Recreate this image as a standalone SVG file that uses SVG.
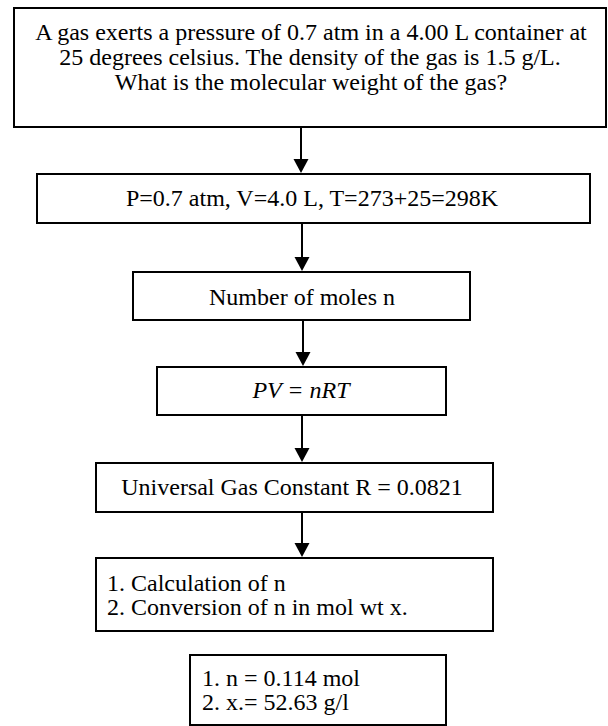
<svg xmlns="http://www.w3.org/2000/svg" width="608" height="726" viewBox="0 0 608 726">
<defs>
<style>
.box{fill:#fff;stroke:#000;stroke-width:2}
.t{font-family:"Liberation Serif","Times New Roman",serif;font-size:24px;fill:#000}
.c{text-anchor:middle}
.i{font-style:italic}
.conn line{stroke:#000;stroke-width:2}
.conn path{fill:#000;stroke:none}
</style>
</defs>
<rect width="608" height="726" fill="#fff"/>
<g id="n1">
<rect class="box" x="14" y="8" width="592" height="119"/>
<text class="t c" x="311" y="40">A gas exerts a pressure of 0.7 atm in a 4.00 L container at</text>
<text class="t c" x="310" y="65">25 degrees celsius. The density of the gas is 1.5 g/L.</text>
<text class="t c" x="311" y="90">What is the molecular weight of the gas?</text>
</g>
<g id="n2">
<rect class="box" x="37" y="174" width="553" height="49"/>
<text class="t c" x="312" y="206">P=0.7 atm, V=4.0 L, T=273+25=298K</text>
</g>
<g id="n3">
<rect class="box" x="133" y="272" width="337" height="48"/>
<text class="t c" x="302" y="305">Number of moles n</text>
</g>
<g id="n4">
<rect class="box" x="157" y="367" width="289" height="48"/>
<text class="t c i" x="301" y="398">PV = nRT</text>
</g>
<g id="n5">
<rect class="box" x="96" y="463" width="397" height="49"/>
<text class="t c" x="292" y="495">Universal Gas Constant R = 0.0821</text>
</g>
<g id="n6">
<rect class="box" x="96" y="558" width="397" height="73"/>
<text class="t" x="107" y="591">1. Calculation of n</text>
<text class="t" x="107" y="615">2. Conversion of n in mol wt x.</text>
</g>
<g id="n7">
<rect class="box" x="190" y="655" width="256" height="70"/>
<text class="t" x="202" y="686">1. n = 0.114 mol</text>
<text class="t" x="202" y="710">2. x.= 52.63 g/l</text>
</g>
<g class="conn">
<line x1="301" y1="127" x2="301" y2="160"/><path d="M293.5,159 L308.5,159 L301,173 Z"/>
<line x1="302" y1="223" x2="302" y2="258"/><path d="M294.5,257 L309.5,257 L302,271 Z"/>
<line x1="303" y1="320" x2="303" y2="353"/><path d="M295.5,352 L310.5,352 L303,366 Z"/>
<line x1="302" y1="415" x2="302" y2="449"/><path d="M294.5,448 L309.5,448 L302,462 Z"/>
<line x1="302" y1="512" x2="302" y2="544"/><path d="M294.5,543 L309.5,543 L302,557 Z"/>
</g>
</svg>
